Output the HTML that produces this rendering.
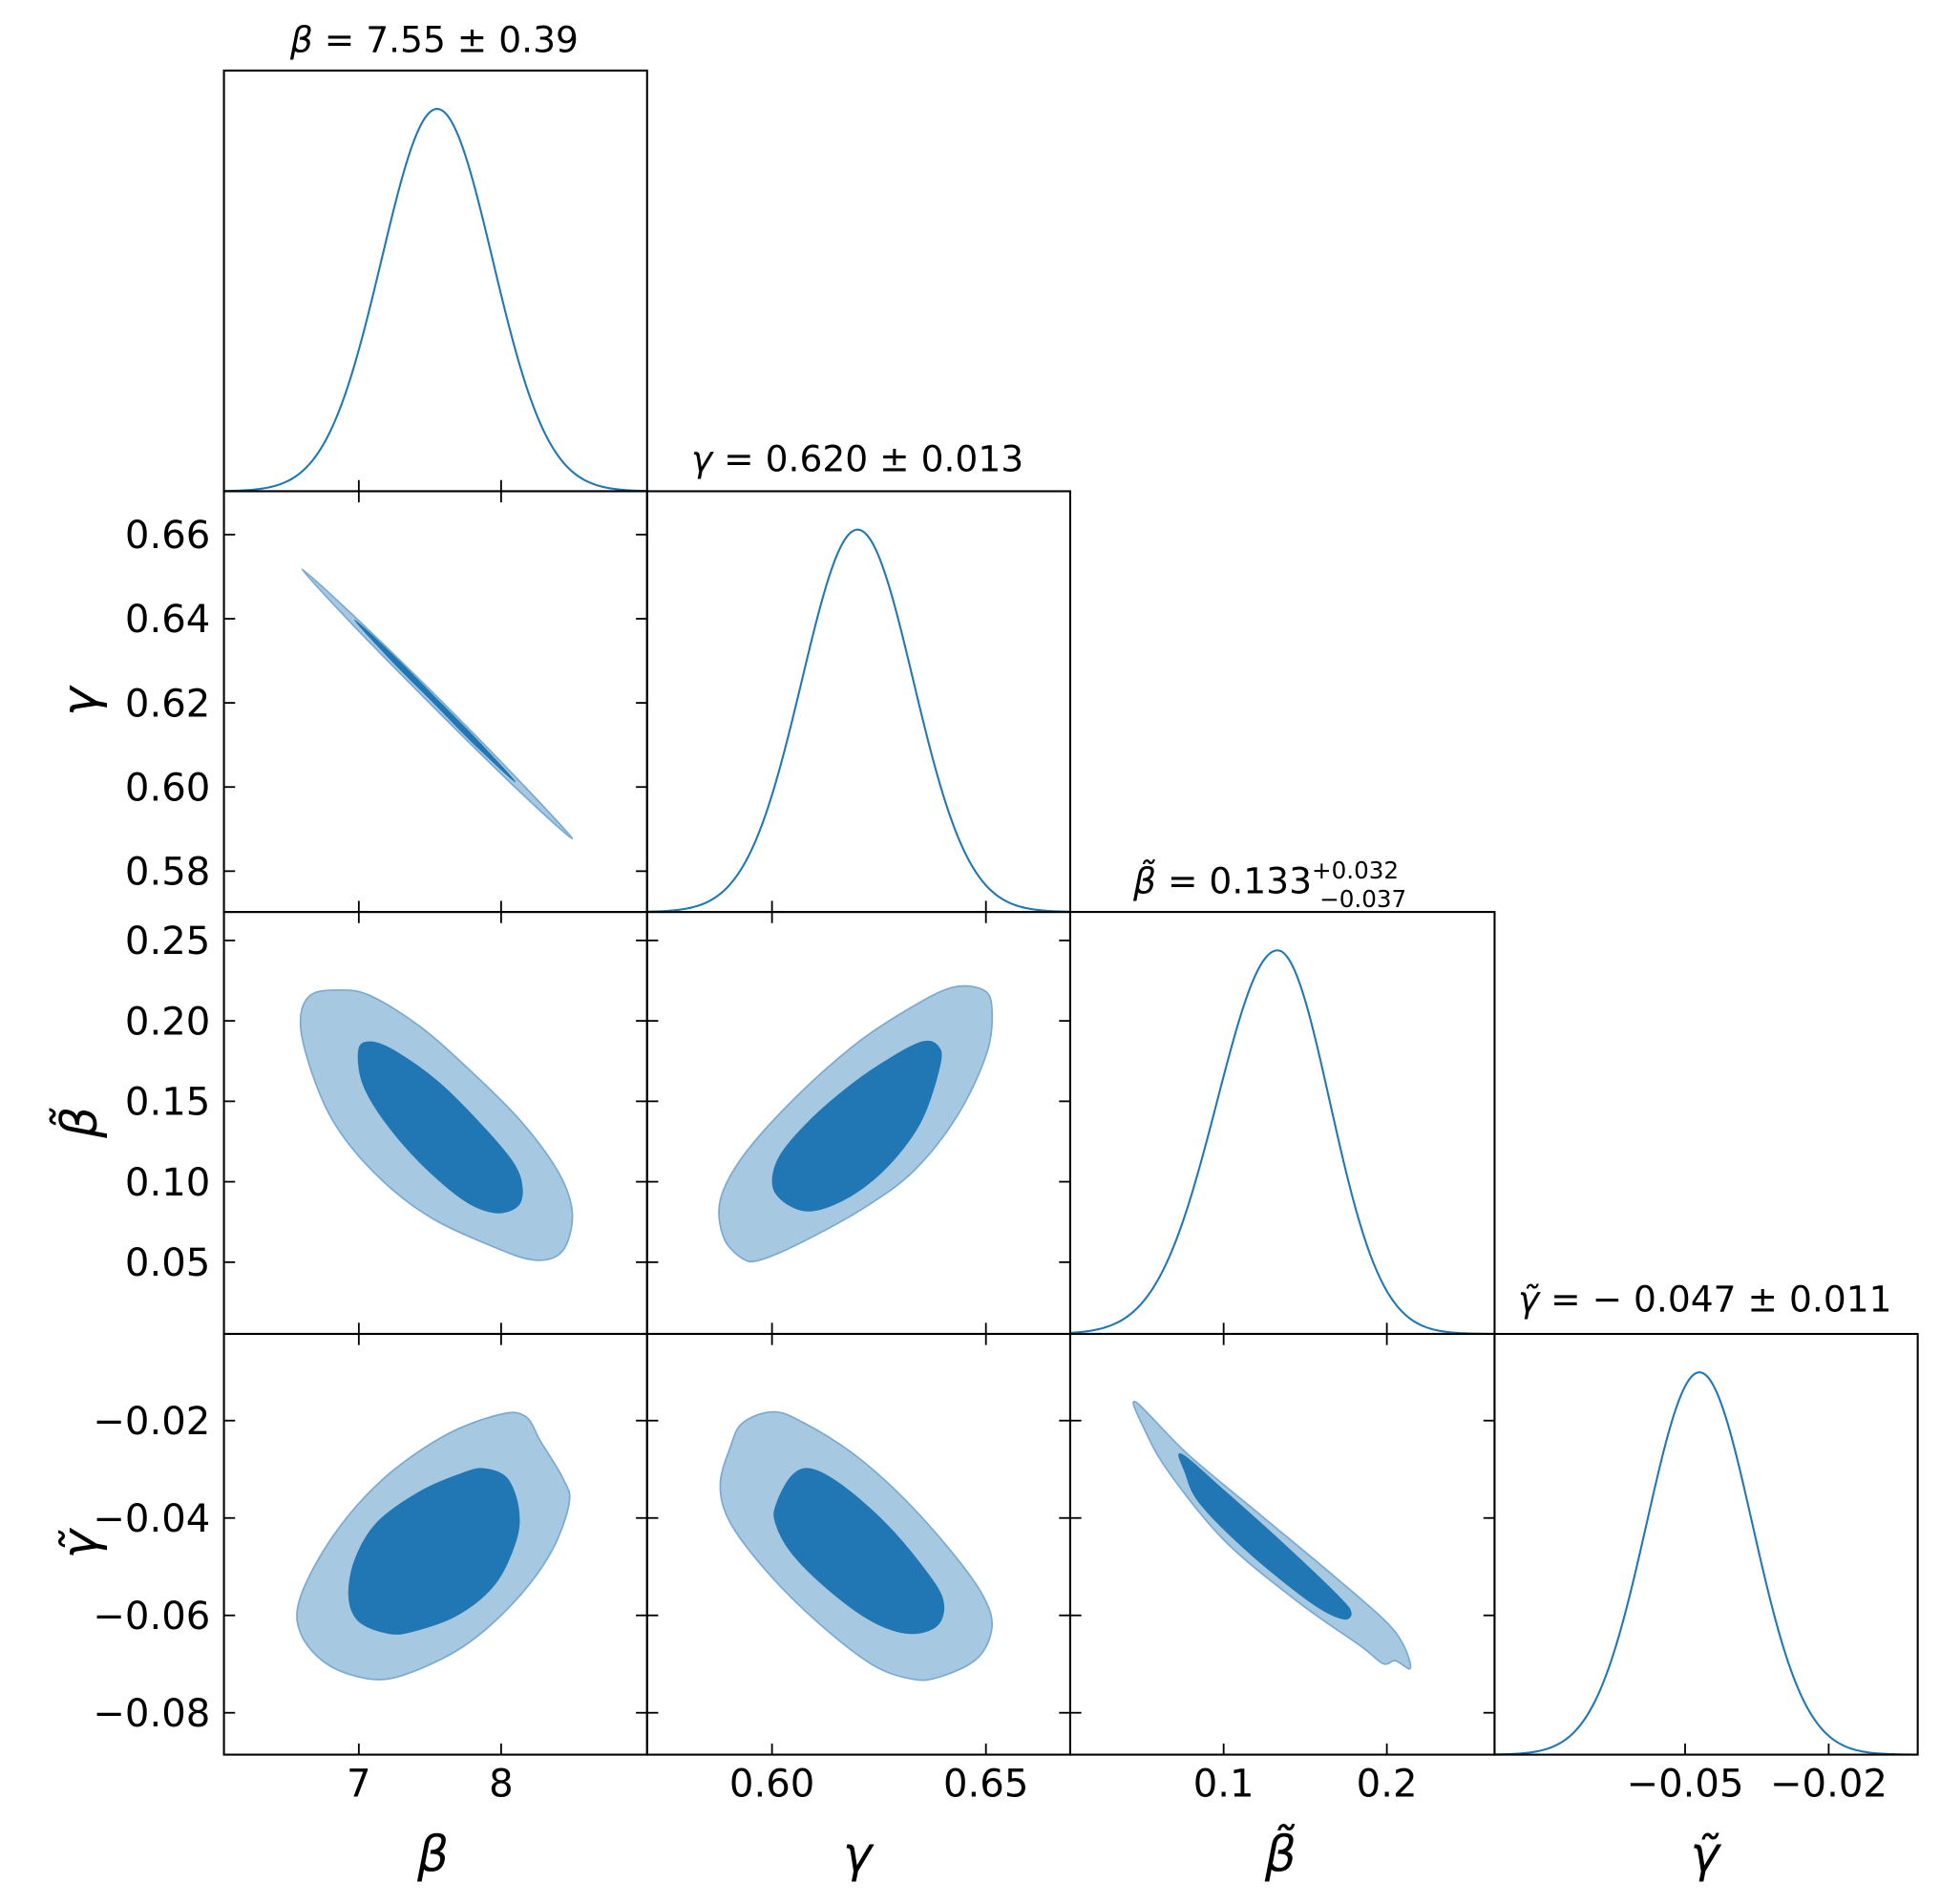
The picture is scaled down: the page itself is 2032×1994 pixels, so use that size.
<!DOCTYPE html>
<html><head><meta charset="utf-8">
<style>
html,body{margin:0;padding:0;background:#fff;}
svg{display:block;}
text{font-family:"DejaVu Sans","Liberation Sans",sans-serif;fill:#000;}
</style></head>
<body>
<svg id="chart" xmlns="http://www.w3.org/2000/svg" width="2032" height="1994" viewBox="0 0 1568 1538.7">
<rect x="0" y="0" width="1568" height="1538.7" fill="#fff"/>
<g id="marks"></g>
<g id="frames"></g>
<g id="labels"></g>
</svg>
<script>
// ---- data ----
const paramNames = ["β","γ","β̃","γ̃"];
const axisMin = [6.052, 0.5708, 0.006, -0.0898];
const axisMax = [9.026, 0.6697, 0.266, -0.0014];
const yAxisMin = [null, 0.5703, 0.0054, -0.0886];
const yAxisMax = [null, 0.6703, 0.2677, -0.0022];
const xTicks = [[7,8],[0.60,0.65],[0.1,0.2],[-0.05,-0.02]];
const xTickLabels = [["7","8"],["0.60","0.65"],["0.1","0.2"],["−0.05","−0.02"]];
const yTicks = [null,[0.58,0.60,0.62,0.64,0.66],[0.05,0.10,0.15,0.20,0.25],[-0.08,-0.06,-0.04,-0.02]];
const yTickLabels = [null,["0.58","0.60","0.62","0.64","0.66"],["0.05","0.10","0.15","0.20","0.25"],["−0.08","−0.06","−0.04","−0.02"]];
const means = [7.55, 0.620, 0.133, -0.047];
const sigmaLo = [0.39, 0.013, 0.037, 0.011];
const sigmaHi = [0.39, 0.013, 0.032, 0.011];

// contour data [x, y] in data units, keyed "row-col"
const contourOuter = {
 "1-0": [[6.60,0.6518],[6.998,0.6396],[7.575,0.6206],[8.138,0.6011],[8.50,0.5877],[8.10,0.5999],[7.525,0.6190],[6.962,0.6384]],
 "2-0": [[6.652,0.2154],[6.869,0.2192],[7.087,0.2154],[7.435,0.1962],[7.782,0.1692],[8.130,0.1385],[8.391,0.1077],[8.495,0.0846],[8.478,0.0654],[8.391,0.0538],[8.217,0.0515],[7.956,0.0592],[7.522,0.0769],[7.174,0.1000],[6.869,0.1308],[6.695,0.1615],[6.591,0.1962]],
 "2-1": [[0.5931,0.0523],[0.5974,0.0515],[0.6075,0.0631],[0.6220,0.0846],[0.6335,0.1077],[0.6436,0.1423],[0.6503,0.1808],[0.6514,0.2077],[0.6494,0.2192],[0.6422,0.2208],[0.6321,0.2077],[0.6191,0.1846],[0.6046,0.1500],[0.5931,0.1154],[0.5879,0.0885],[0.5887,0.0654]],
 "3-0": [[6.591,-0.0561],[6.826,-0.0434],[7.174,-0.0319],[7.609,-0.0230],[7.999,-0.0187],[8.174,-0.0192],[8.278,-0.0243],[8.435,-0.0319],[8.478,-0.0370],[8.348,-0.0472],[8.087,-0.0574],[7.739,-0.0663],[7.348,-0.0719],[7.087,-0.0731],[6.782,-0.0701],[6.591,-0.0637]],
 "3-1": [[0.5931,-0.0205],[0.6003,-0.0182],[0.6075,-0.0205],[0.6191,-0.0269],[0.6306,-0.0358],[0.6422,-0.0472],[0.6494,-0.0561],[0.6514,-0.0625],[0.6480,-0.0688],[0.6393,-0.0726],[0.6329,-0.0731],[0.6234,-0.0701],[0.6104,-0.0612],[0.5988,-0.0510],[0.5902,-0.0409],[0.5879,-0.0332],[0.5902,-0.0256]],
 "3-2": [[0.0462,-0.0162],[0.0780,-0.0269],[0.1234,-0.0396],[0.1689,-0.0523],[0.1992,-0.0612],[0.2105,-0.0663],[0.2143,-0.0709],[0.2052,-0.0693],[0.1977,-0.0699],[0.1840,-0.0663],[0.1462,-0.0574],[0.1007,-0.0447],[0.0666,-0.0307],[0.0515,-0.0218]]
};
const contourInner = {
 "1-0": [[6.97,0.6397],[7.265,0.6305],[7.547,0.6209],[7.830,0.6112],[8.10,0.6012],[7.805,0.6104],[7.523,0.6201],[7.240,0.6297]],
 "2-0": [[7.000,0.1823],[7.087,0.1869],[7.261,0.1808],[7.565,0.1615],[7.869,0.1346],[8.087,0.1115],[8.148,0.0962],[8.113,0.0846],[7.956,0.0808],[7.739,0.0885],[7.435,0.1115],[7.174,0.1385],[7.026,0.1615]],
 "2-1": [[0.6003,0.0962],[0.6046,0.0846],[0.6104,0.0823],[0.6191,0.0923],[0.6277,0.1115],[0.6350,0.1385],[0.6393,0.1731],[0.6387,0.1846],[0.6350,0.1869],[0.6277,0.1769],[0.6191,0.1615],[0.6090,0.1385],[0.6017,0.1154]],
 "3-0": [[6.930,-0.0561],[6.974,-0.0485],[7.130,-0.0409],[7.435,-0.0345],[7.739,-0.0307],[7.887,-0.0299],[8.043,-0.0319],[8.122,-0.0381],[8.104,-0.0447],[7.956,-0.0536],[7.695,-0.0599],[7.391,-0.0632],[7.209,-0.0637],[7.000,-0.0612]],
 "3-1": [[0.6011,-0.0370],[0.6046,-0.0314],[0.6090,-0.0299],[0.6162,-0.0332],[0.6263,-0.0409],[0.6350,-0.0498],[0.6399,-0.0567],[0.6387,-0.0620],[0.6321,-0.0637],[0.6234,-0.0612],[0.6133,-0.0548],[0.6046,-0.0472],[0.6008,-0.0409]],
 "3-2": [[0.0742,-0.0269],[0.1007,-0.0345],[0.1386,-0.0459],[0.1704,-0.0561],[0.1780,-0.0594],[0.1727,-0.0607],[0.1537,-0.0574],[0.1158,-0.0472],[0.0855,-0.0370],[0.0765,-0.0307]]
};

// ---- layout ----
const colX = [181, 523, 865, 1208, 1550];
const rowY = [57, 397, 737, 1078, 1418];
const NS = "http://www.w3.org/2000/svg";
function el(tag, attrs, parent){ const e=document.createElementNS(NS,tag); for(const k in attrs) e.setAttribute(k,attrs[k]); parent.appendChild(e); return e; }
function sx(col, v){ return colX[col] + (v-axisMin[col])/(axisMax[col]-axisMin[col])*(colX[col+1]-colX[col]); }
function sy(row, v){ return rowY[row+1] - (v-yAxisMin[row])/(yAxisMax[row]-yAxisMin[row])*(rowY[row+1]-rowY[row]); }
const marks=document.getElementById('marks'), frames=document.getElementById('frames'), labels=document.getElementById('labels');

function smoothClosed(pts){
  const n=pts.length; let d="M"+pts[0][0].toFixed(2)+","+pts[0][1].toFixed(2);
  for(let i=0;i<n;i++){
    const p0=pts[(i-1+n)%n],p1=pts[i],p2=pts[(i+1)%n],p3=pts[(i+2)%n];
    const c1=[p1[0]+(p2[0]-p0[0])/6,p1[1]+(p2[1]-p0[1])/6];
    const c2=[p2[0]-(p3[0]-p1[0])/6,p2[1]-(p3[1]-p1[1])/6];
    d+="C"+c1[0].toFixed(2)+","+c1[1].toFixed(2)+" "+c2[0].toFixed(2)+","+c2[1].toFixed(2)+" "+p2[0].toFixed(2)+","+p2[1].toFixed(2);
  }
  return d+"Z";
}

// 2D contours
for(const key in contourOuter){
  const [r,c]=key.split("-").map(Number);
  const po = contourOuter[key].map(p=>[sx(c,p[0]), sy(r,p[1])]);
  const o = el("path",{d:smoothClosed(po),fill:"#a6c8e1",stroke:"#7aa9d3","stroke-width":1.3,"stroke-linejoin":"round"},marks);
  
  
  const pi = contourInner[key].map(p=>[sx(c,p[0]), sy(r,p[1])]);
  const ii = el("path",{d:smoothClosed(pi),fill:"#2077b4",stroke:"#2077b4","stroke-width":0.8},marks);
  
  
}

// 1D marginals
for(let i=0;i<4;i++){
  const top=rowY[i]+31, base=rowY[i+1];
  let d="";
  const N=200;
  for(let k=0;k<=N;k++){
    const v=axisMin[i]+(axisMax[i]-axisMin[i])*k/N;
    const s = v<means[i]?sigmaLo[i]:sigmaHi[i];
    const dens=Math.exp(-0.5*Math.pow((v-means[i])/s,2));
    const y=base-(base-top)*dens;
    d+=(k?"L":"M")+sx(i,v).toFixed(2)+","+y.toFixed(2);
  }
  const p=el("path",{d:d,fill:"none",stroke:"#1f77b4","stroke-width":1.6},marks);
  
  
}

// frames & ticks
const TL=9;
for(let r=0;r<4;r++){
  for(let c=0;c<=r;c++){
    const x0=colX[c],x1=colX[c+1],y0=rowY[r],y1=rowY[r+1];
    const f=el("rect",{x:x0,y:y0,width:x1-x0,height:y1-y0,fill:"none",stroke:"#000","stroke-width":1.6},frames);
    
    
    xTicks[c].forEach(t=>{
      const x=sx(c,t);
      el("line",{x1:x,x2:x,y1:y1,y2:y1-TL,stroke:"#000","stroke-width":1.4},frames);
      if(r!==c) el("line",{x1:x,x2:x,y1:y0,y2:y0+TL,stroke:"#000","stroke-width":1.4},frames);
    });
    if(r!==c){
      yTicks[r].forEach(t=>{
        const y=sy(r,t);
        el("line",{x1:x0,x2:x0+TL,y1:y,y2:y,stroke:"#000","stroke-width":1.4},frames);
        el("line",{x1:x1,x2:x1-TL,y1:y,y2:y,stroke:"#000","stroke-width":1.4},frames);
      });
    }
  }
}

// tick labels
for(let c=0;c<4;c++){
  xTicks[c].forEach((t,k)=>{
    const tx=el("text",{x:sx(c,t),y:1452,"font-size":31,"text-anchor":"middle"},labels);
    tx.textContent=xTickLabels[c][k];
    
    
  });
}
for(let r=1;r<4;r++){
  yTicks[r].forEach((t,k)=>{
    const tx=el("text",{x:170,y:sy(r,t)+11,"font-size":31,"text-anchor":"end"},labels);
    tx.textContent=yTickLabels[r][k];
    
    
  });
}
// axis titles
const xc=[350,693,1035,1378];
for(let c=0;c<4;c++){
  const tx=el("text",{x:xc[c],y:1512,"font-size":40,"font-style":"italic","text-anchor":"middle"},labels);
  tx.textContent=paramNames[c];
  
  
}
const yc=[0,567,907,1248];
for(let r=1;r<4;r++){
  const tx=el("text",{x:0,y:0,"font-size":40,"font-style":"italic","text-anchor":"middle",transform:"translate(78,"+yc[r]+") rotate(-90)"},labels);
  tx.textContent=paramNames[r];
  
  
}
</script>
<!-- marginal titles -->
<svg style="position:absolute;left:0;top:0" width="2032" height="1994" viewBox="0 0 1568 1538.7">
<text x="351" y="42" font-size="29" text-anchor="middle"><tspan font-style="italic">β</tspan> = 7.55 ± 0.39</text>
<text x="693" y="381" font-size="29" text-anchor="middle"><tspan font-style="italic">γ</tspan> = 0.620 ± 0.013</text>
<text x="916" y="722" font-size="29"><tspan font-style="italic">β̃</tspan> = 0.133<tspan font-size="19" dy="-12">+0.032</tspan><tspan font-size="19" dx="-64" dy="23">−0.037</tspan></text>
<text x="1378" y="1060" font-size="29" text-anchor="middle"><tspan font-style="italic">γ̃</tspan> = − 0.047 ± 0.011</text>
</svg>
</body></html>
